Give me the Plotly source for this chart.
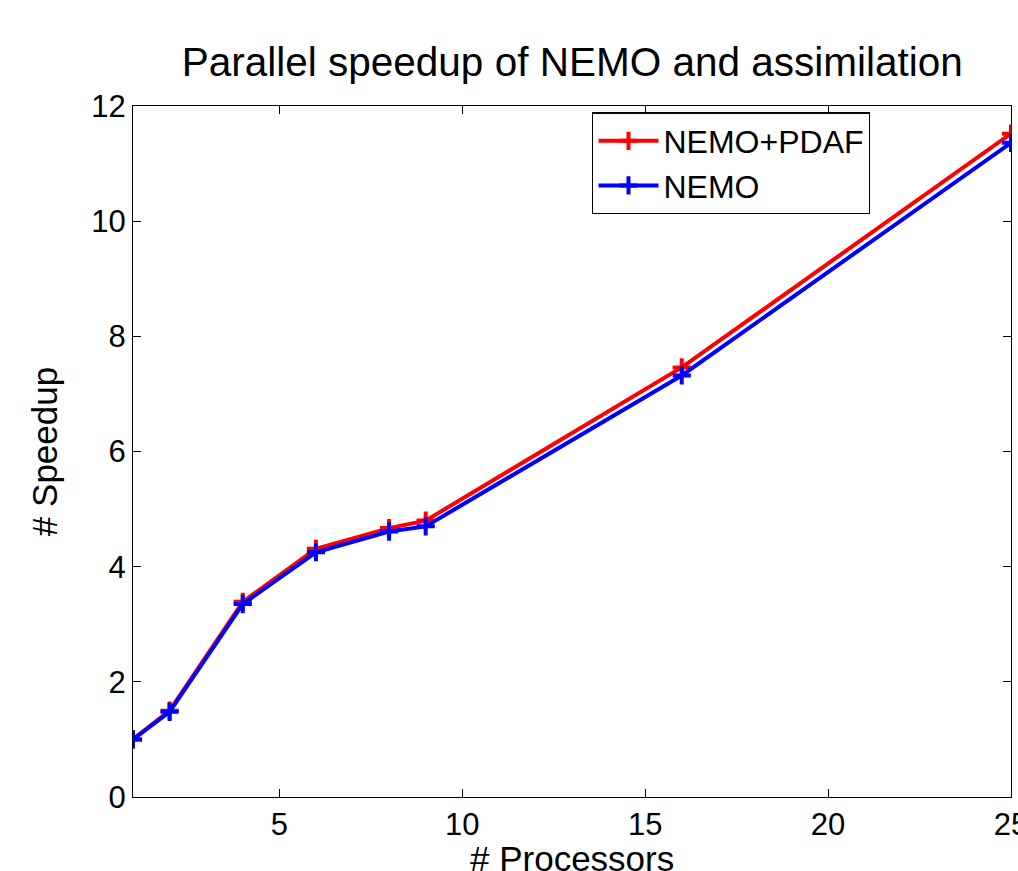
import plotly.graph_objects as go

processors = [1, 2, 4, 6, 8, 9, 16, 25]
speedup_pdaf = [1.0, 1.50, 3.39, 4.31, 4.67, 4.80, 7.46, 11.52]
speedup_nemo = [1.0, 1.48, 3.35, 4.25, 4.61, 4.70, 7.32, 11.36]
x_ticks = [5, 10, 15, 20, 25]
y_ticks = [0, 2, 4, 6, 8, 10, 12]

FONT = "Liberation Sans, Arial, sans-serif"

fig = go.Figure()
fig.add_trace(go.Scatter(
    x=processors, y=speedup_pdaf, name="NEMO+PDAF", mode="lines+markers",
    line=dict(color="#ff0000", width=4),
    marker=dict(symbol="cross-thin-open", size=13, color="#ff0000",
                line=dict(color="#ff0000", width=4)),
))
fig.add_trace(go.Scatter(
    x=processors, y=speedup_nemo, name="NEMO", mode="lines+markers",
    line=dict(color="#0000ff", width=4),
    marker=dict(symbol="cross-thin-open", size=13, color="#0000ff",
                line=dict(color="#0000ff", width=4)),
))

axis_common = dict(
    showgrid=False, zeroline=False, showline=True, linecolor="black",
    linewidth=1.3, mirror="ticks", ticks="inside", ticklen=8,
    tickcolor="black", tickwidth=1, automargin=False,
    ticklabeloverflow="allow",
    tickfont=dict(family=FONT, size=31, color="black"),
)

fig.update_layout(
    width=1018, height=871,
    paper_bgcolor="white", plot_bgcolor="white",
    margin=dict(l=133, r=6.5, t=105.7, b=73.7),
    title=dict(text="Parallel speedup of NEMO and assimilation",
               font=dict(family=FONT, size=40.5, color="black"),
               x=(133 + 1011.5) / 2 / 1018, xanchor="center",
               y=1 - 62 / 871, yanchor="middle"),
    xaxis=dict(range=[1, 25], tickvals=x_ticks, **axis_common),
    yaxis=dict(range=[0, 12], tickvals=y_ticks,
               title=dict(text="# Speedup", standoff=22,
                          font=dict(family=FONT, size=35, color="black")),
               **axis_common),
    legend=dict(x=0.523, y=0.991, xanchor="left", yanchor="top",
                bgcolor="white", bordercolor="black", borderwidth=1.3,
                font=dict(family=FONT, size=32, color="black"),
                tracegroupgap=0, itemwidth=60),
    showlegend=True,
    annotations=[dict(text="# Processors", xref="paper", yref="paper",
                      x=0.5, y=(797.3 - 859) / 691.6,
                      xanchor="center", yanchor="middle", showarrow=False,
                      font=dict(family=FONT, size=35, color="black"))],
)

fig.write_html(
    "out.html",
    config={"displayModeBar": False},
    post_script="document.body.style.margin='0';document.body.style.overflow='hidden';",
)
